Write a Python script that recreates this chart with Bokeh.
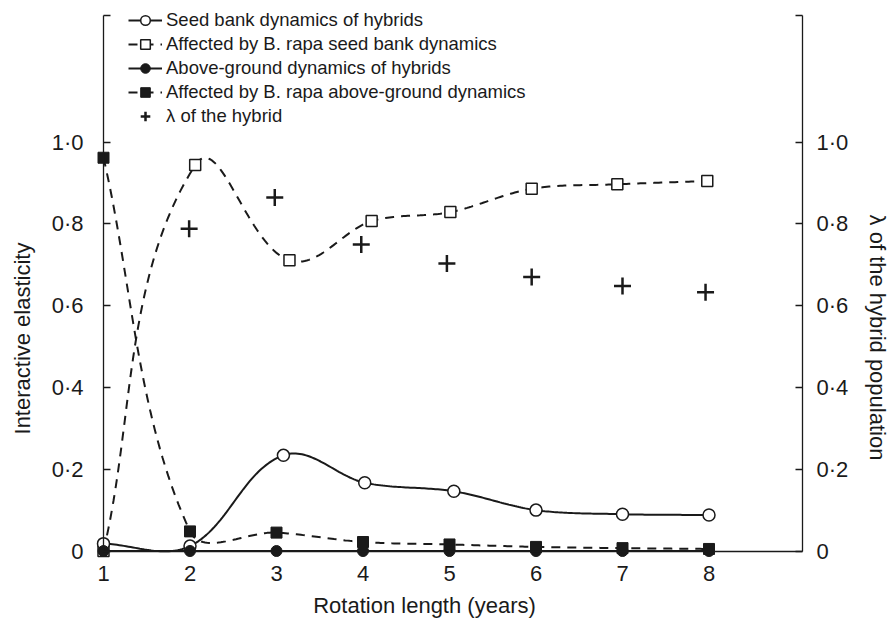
import numpy as np
from bokeh.plotting import figure
from bokeh.models import (Range1d, LinearAxis, FixedTicker, CustomJSTickFormatter,
                          Legend, LegendItem, Label)
from bokeh.embed import file_html
from bokeh.resources import INLINE

# ---------------- data ----------------
years = [1, 2, 3, 4, 5, 6, 7, 8]
year_labels = ["1", "2", "3", "4", "5", "6", "7", "8"]

y_ticks = [0, 0.2, 0.4, 0.6, 0.8, 1.0]
y_tick_labels = ["0", "0·2", "0·4", "0·6", "0·8", "1·0"]

seed_hyb_x = [1.0, 2.0, 3.08, 4.02, 5.05, 6.0, 7.0, 8.0]
seed_hyb_y = [0.018, 0.012, 0.234, 0.167, 0.146, 0.100, 0.090, 0.088]

seed_rapa_x = [1.0, 2.06, 3.15, 4.10, 5.01, 5.95, 6.94, 7.98]
seed_rapa_y = [0.0, 0.944, 0.711, 0.807, 0.829, 0.886, 0.897, 0.905]

above_hyb_x = [1, 2, 3, 4, 5, 6, 7, 8]
above_hyb_y = [0.0, 0.0, 0.0, 0.0, 0.0, 0.0, 0.0, 0.0]

above_rapa_x = [1.0, 2.0, 3.0, 4.0, 5.0, 6.0, 7.0, 8.0]
above_rapa_y = [0.962, 0.048, 0.045, 0.022, 0.016, 0.010, 0.007, 0.005]

lambda_x = [1.99, 2.98, 3.98, 4.97, 5.95, 7.0, 7.96]
lambda_y = [0.788, 0.865, 0.750, 0.703, 0.670, 0.648, 0.633]

# ---------------- geometry / style ----------------
W, H = 890, 621
X0 = 1.0
SX = 86.5          # px per year
SY = 408.8         # px per unit of y
LEFT_PX = 103      # canvas column of x = 1 (left axis)
RIGHT_PX = 802     # canvas column of the right axis
TOP_PX = 15        # canvas row where the vertical axes end
ZERO_PX = 550.5    # canvas row of y = 0

x_start = X0 - LEFT_PX / SX
x_stop = X0 + (W - LEFT_PX) / SX
y_start = (ZERO_PX - H) / SY
y_stop = ZERO_PX / SY
x_right_axis = X0 + (RIGHT_PX - LEFT_PX) / SX
y_top_axis = (ZERO_PX - TOP_PX) / SY

INK = "#1a1a1a"
FONT = "Liberation Sans"


def px2x(cx):
    return X0 + (cx - LEFT_PX) / SX


def px2y(cy):
    return (ZERO_PX - cy) / SY


def smooth(xs, ys, n=40):
    P = np.column_stack([np.asarray(xs, float) * SX, np.asarray(ys, float) * SY])
    m = len(P)
    out = [P[0]]
    k = 1.0 / 3.0
    for i in range(m - 1):
        p0 = P[i - 1] if i > 0 else P[i]
        p1, p2 = P[i], P[i + 1]
        p3 = P[i + 2] if i + 2 < m else P[i + 1]
        seg = np.linalg.norm(p2 - p1)
        d1 = p2 - p0
        d1 = d1 / (np.linalg.norm(d1) or 1)
        d2 = p3 - p1
        d2 = d2 / (np.linalg.norm(d2) or 1)
        c1 = p1 + d1 * seg * k
        c2 = p2 - d2 * seg * k
        t = np.linspace(0, 1, n)[1:, None]
        b = ((1 - t) ** 3) * p1 + 3 * ((1 - t) ** 2) * t * c1 + 3 * (1 - t) * t ** 2 * c2 + t ** 3 * p2
        out.extend(b)
    out = np.array(out)
    return out[:, 0] / SX, out[:, 1] / SY


p = figure(width=W, height=H, x_range=Range1d(x_start, x_stop), y_range=Range1d(y_start, y_stop),
           output_backend="svg", toolbar_location=None,
           min_border_left=0, min_border_right=0, min_border_top=0, min_border_bottom=0)
p.title.visible = False
p.grid.visible = False
p.outline_line_color = None
p.background_fill_color = "white"
p.border_fill_color = "white"

FMT_CODE = """
let k = -1;
for (let j = 0; j < tvals.length; j++) { if (Math.abs(tvals[j] - tick) < 1e-6) { k = j; } }
return k >= 0 ? tlabels[k] : '';
"""


def style_axis(ax, standoff):
    ax.minor_tick_line_color = None
    ax.axis_line_color = INK
    ax.axis_line_width = 1.3
    ax.major_tick_line_width = 1.3
    ax.major_tick_line_color = INK
    ax.major_label_text_font = FONT
    ax.major_label_text_font_size = "22px"
    ax.major_label_text_color = INK
    ax.major_label_standoff = standoff


# x axis drawn along y = 0
xa = p.xaxis[0]
xa.fixed_location = 0
xa.bounds = (X0, x_right_axis)
xa.ticker = FixedTicker(ticks=years)
xa.formatter = CustomJSTickFormatter(args=dict(tvals=years, tlabels=year_labels), code=FMT_CODE)
style_axis(xa, 15)
xa.major_tick_in = 0
xa.major_tick_out = 0

ytick_all = y_ticks + [y_top_axis - 1e-4]
yfmt = CustomJSTickFormatter(args=dict(tvals=y_ticks, tlabels=y_tick_labels), code=FMT_CODE)

ya = p.yaxis[0]
ya.fixed_location = X0
ya.bounds = (0, y_top_axis)
ya.ticker = FixedTicker(ticks=ytick_all)
ya.formatter = yfmt
style_axis(ya, 20)
ya.major_tick_in = 7
ya.major_tick_out = 0

ra = LinearAxis(ticker=FixedTicker(ticks=ytick_all), formatter=yfmt,
                fixed_location=x_right_axis, bounds=(0, y_top_axis))
style_axis(ra, 14)
ra.major_tick_in = 7
ra.major_tick_out = 0
p.add_layout(ra, "right")

# ---------------- series ----------------
dash = "9 7"
sx_, sy_ = smooth(above_hyb_x, above_hyb_y)
l_ah = p.line(sx_, sy_, line_color=INK, line_width=2)
sx_, sy_ = smooth(above_rapa_x, above_rapa_y)
l_ar = p.line(sx_, sy_, line_color=INK, line_width=2, line_dash=dash)
sx_, sy_ = smooth(seed_rapa_x, seed_rapa_y)
l_sr = p.line(sx_, sy_, line_color=INK, line_width=2, line_dash=dash)
sx_, sy_ = smooth(seed_hyb_x, seed_hyb_y)
l_sh = p.line(sx_, sy_, line_color=INK, line_width=2)

# open markers first, filled markers on top (as in the reference)
m_sr = p.scatter(seed_rapa_x, seed_rapa_y, marker="square", size=11,
                 fill_color="white", line_color=INK, line_width=1.5)
m_sh = p.scatter(seed_hyb_x, seed_hyb_y, marker="circle", size=12,
                 fill_color="white", line_color=INK, line_width=1.5)
m_ah = p.scatter(above_hyb_x, above_hyb_y, marker="circle", size=11,
                 fill_color=INK, line_color=INK)
m_ar = p.scatter(above_rapa_x, above_rapa_y, marker="square", size=11,
                 fill_color=INK, line_color=INK)
m_lam = p.scatter(lambda_x, lambda_y, marker="cross", size=17,
                  line_color=INK, line_width=2.5)

LEG_H = 5 * 24
legend = Legend(items=[
    LegendItem(label="Seed bank dynamics of hybrids", renderers=[l_sh, m_sh]),
    LegendItem(label="Affected by B. rapa seed bank dynamics", renderers=[l_sr, m_sr]),
    LegendItem(label="Above-ground dynamics of hybrids", renderers=[l_ah, m_ah]),
    LegendItem(label="Affected by B. rapa above-ground dynamics", renderers=[l_ar, m_ar]),
    LegendItem(label="λ of the hybrid", renderers=[m_lam]),
], location=(128, H - 8 - LEG_H), orientation="vertical",
    glyph_width=34, glyph_height=24, label_height=24, label_standoff=4,
    spacing=0, padding=0, margin=0, background_fill_alpha=0,
    border_line_color=None, label_text_font=FONT, label_text_font_size="18.5px",
    label_text_color=INK)
p.add_layout(legend)

# axis titles
def title_label(text, cx, cy, angle):
    return Label(x=px2x(cx), y=px2y(cy), text=text, angle=angle,
                 text_align="center", text_baseline="middle", text_font=FONT,
                 text_font_size="22px", text_color=INK)


p.add_layout(title_label("Interactive elasticity", 22, 338, np.pi / 2))
p.add_layout(title_label("λ of the hybrid population", 877, 337, -np.pi / 2))
p.add_layout(title_label("Rotation length (years)", 424, 605, 0))

open("out.html", "w").write(file_html(p, INLINE))
